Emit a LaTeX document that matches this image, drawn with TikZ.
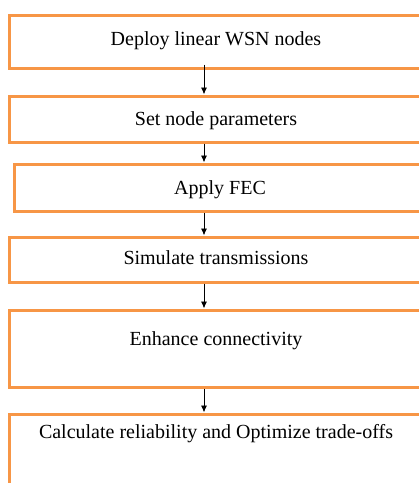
\documentclass[tikz,border=0pt]{standalone}
\usepackage{fontspec}
\setmainfont{Liberation Serif}
\usetikzlibrary{arrows.meta}
\definecolor{boxorange}{HTML}{F79646}
\begin{document}
\begin{tikzpicture}[x=1pt,y=-1pt,
        stepbox/.style={draw=boxorange,line width=3pt,inner sep=0pt,anchor=base,
            minimum width=414pt,font=\fontsize{20}{24}\selectfont},
        flow/.style={-{Latex[length=7pt,width=6pt]},line width=0.9pt}]
        \clip (0,0) rectangle (419,483);
        \node [stepbox,text height=30pt,text depth=23pt] (deploy) at (216,45) {Deploy linear WSN nodes};
        \node [stepbox,text height=29pt,text depth=17pt] (params) at (216,125) {Set node parameters};
        \node [stepbox,text height=30pt,text depth=17pt,minimum width=412pt] (fec) at (220,194) {Apply FEC};
        \node [stepbox,text height=27pt,text depth=18pt] (simulate) at (216,264) {Simulate transmissions};
        \node [stepbox,text height=35pt,text depth=42pt] (connect) at (216,345) {Enhance connectivity};
        \node [stepbox,text height=24pt,text depth=70pt] (reliab) at (216,438) {Calculate reliability and Optimize trade-offs};
        \draw[flow] ([xshift=-12pt,yshift=5pt]deploy.south) -- ([xshift=-12pt]params.north);
        \draw[flow] ([xshift=-12pt]params.south) -- ([xshift=-16pt]fec.north);
        \draw[flow] ([xshift=-16pt]fec.south) -- ([xshift=-12pt]simulate.north);
        \draw[flow] ([xshift=-12pt]simulate.south) -- ([xshift=-12pt]connect.north);
        \draw[flow] ([xshift=-12pt]connect.south) -- ([xshift=-12pt]reliab.north);
    \end{tikzpicture}
\end{document}
